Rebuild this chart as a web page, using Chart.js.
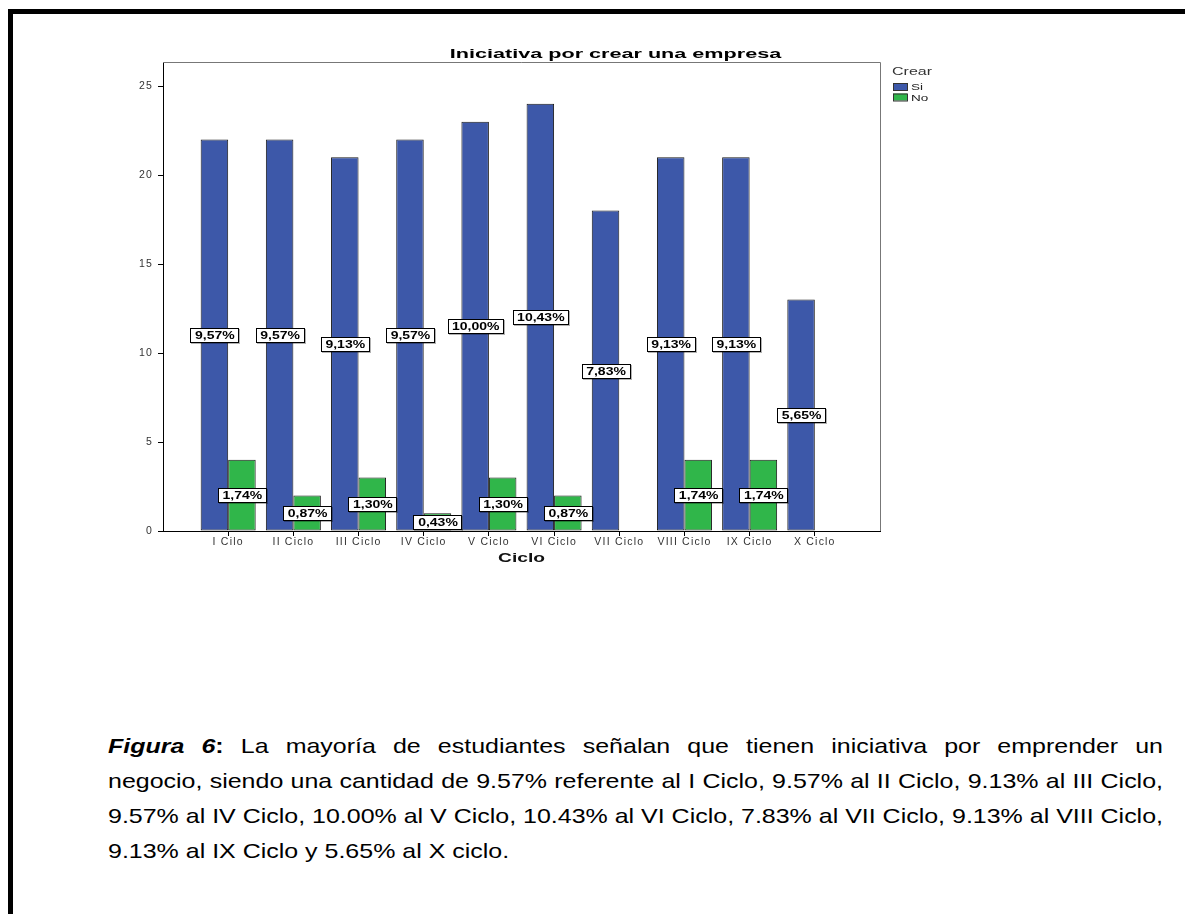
<!DOCTYPE html>
<html>
<head>
<meta charset="utf-8">
<script src="https://cdn.jsdelivr.net/npm/chart.js@4.4.0/dist/chart.umd.min.js"></script>
<style>
    html, body { margin: 0; padding: 0; background: #fff; }
    body { width: 1185px; height: 914px; position: relative; overflow: hidden; }
    #marco { position: absolute; left: 8px; top: 9px; right: -20px; bottom: -20px; border-top: 5px solid #000; border-left: 5px solid #000; }
    #grafico { position: absolute; left: 0; top: 0; }
    #leyenda { position: absolute; left: 108px; top: 728px; font-family: "Liberation Sans", Arial, sans-serif; font-size: 21px; line-height: 35px; color: #000; transform-origin: 0 0; }
    #leyenda div { text-align: justify; text-align-last: justify; white-space: nowrap; }
    #leyenda.medir div { text-align-last: left; }
    #leyenda div.ultima { text-align-last: left; }
</style>
</head>
<body>
<div id="marco"></div>
<canvas id="grafico" width="1185" height="600"></canvas>
<div id="leyenda" class="medir">
    <div><span><b><i>Figura 6</i>:</b> La mayoría de estudiantes señalan que tienen iniciativa por emprender un</span></div>
    <div><span>negocio, siendo una cantidad de 9.57% referente al I Ciclo, 9.57% al II Ciclo, 9.13% al III Ciclo,</span></div>
    <div><span>9.57% al IV Ciclo, 10.00% al V Ciclo, 10.43% al VI Ciclo, 7.83% al VII Ciclo, 9.13% al VIII Ciclo,</span></div>
    <div class="ultima"><span>9.13% al IX Ciclo y 5.65% al X ciclo.</span></div>
</div>
<script>
// datos
const ciclos = ['I Cilo', 'II Ciclo', 'III Ciclo', 'IV Ciclo', 'V Ciclo', 'VI Ciclo', 'VII Ciclo', 'VIII Ciclo', 'IX Ciclo', 'X Ciclo'];
const crearSi = [22, 22, 21, 22, 23, 24, 18, 21, 21, 13];
const crearNo = [4, 2, 3, 1, 3, 2, 0, 4, 4, 0];
const porcSi = ['9,57%', '9,57%', '9,13%', '9,57%', '10,00%', '10,43%', '7,83%', '9,13%', '9,13%', '5,65%'];
const porcNo = ['1,74%', '0,87%', '1,30%', '0,43%', '1,30%', '0,87%', '', '1,74%', '1,74%', ''];
const ticksY = [0, 5, 10, 15, 20, 25];

const FUENTE = '"Liberation Sans", Arial, sans-serif';

// el texto de la figura viene estirado a lo ancho: ajustar al ancho de la linea mas larga
let leyenda = document.getElementById('leyenda');
let anchoMax = 0;
leyenda.querySelectorAll('span').forEach(s => { anchoMax = Math.max(anchoMax, s.getBoundingClientRect().width); });
let escala = 1055 / anchoMax;
leyenda.style.width = (1055 / escala) + 'px';
leyenda.style.transform = 'scaleX(' + escala + ')';
leyenda.classList.remove('medir');

// categorias vacias a cada lado, como en el original de SPSS
let etiquetasX = [''].concat(ciclos, ['']);
let datosSi = [null].concat(crearSi, [null]);
let datosNo = [null].concat(crearNo, [null]);

// texto ensanchado horizontalmente (las fuentes de SPSS salen estiradas)
function textoEstirado(ctx, txt, x, y, fuente, sx, align, color) {
    ctx.save();
    ctx.letterSpacing = '0px';
    ctx.font = fuente;
    ctx.fillStyle = color;
    ctx.textAlign = 'left';
    ctx.textBaseline = 'alphabetic';
    let w = ctx.measureText(txt).width * sx;
    let x0 = x;
    if (align === 'center') x0 = x - w / 2;
    if (align === 'right') x0 = x - w;
    ctx.translate(x0, y);
    ctx.scale(sx, 1);
    ctx.fillText(txt, 0, 0);
    ctx.restore();
    return w;
}

const espaciado = {
    id: 'espaciado',
    beforeDraw(chart) {
        chart.ctx.letterSpacing = '1.2px';
    }
};

const marcoPlot = {
    id: 'marcoPlot',
    beforeDatasetsDraw(chart) {
        let a = chart.chartArea;
        let ctx = chart.ctx;
        ctx.save();
        ctx.strokeStyle = '#777';
        ctx.lineWidth = 1;
        ctx.beginPath();
        ctx.moveTo(a.left, a.top + 0.5);
        ctx.lineTo(a.right + 0.5, a.top + 0.5);
        ctx.lineTo(a.right + 0.5, a.bottom);
        ctx.stroke();
        ctx.restore();
    }
};

const etiquetas = {
    id: 'etiquetas',
    afterDatasetsDraw(chart) {
        let ctx = chart.ctx;
        [porcSi, porcNo].forEach((arr, d) => {
            let meta = chart.getDatasetMeta(d);
            meta.data.forEach((bar, i) => {
                let txt = arr[i - 1];
                if (!txt) return;
                let cy = (bar.y + bar.base) / 2;
                let fuente = 'bold 10px ' + FUENTE;
                ctx.save();
                ctx.letterSpacing = '0px';
                ctx.font = fuente;
                let w = Math.round(ctx.measureText(txt).width * 1.4 + 8);
                let h = 14;
                let x0 = Math.round(bar.x - w / 2);
                let y0 = Math.round(cy - h / 2);
                ctx.fillStyle = 'rgba(0,0,0,0.3)';
                ctx.fillRect(x0 + 1, y0 + 1, w + 1, h + 1);
                ctx.fillStyle = '#fff';
                ctx.fillRect(x0, y0, w, h);
                ctx.strokeStyle = '#000';
                ctx.lineWidth = 1;
                ctx.strokeRect(x0 + 0.5, y0 + 0.5, w, h);
                ctx.restore();
                textoEstirado(ctx, txt, bar.x + 0.5, y0 + 11, fuente, 1.4, 'center', '#000');
            });
        });
    }
};

const textos = {
    id: 'textos',
    afterDraw(chart) {
        let ctx = chart.ctx;
        let a = chart.chartArea;
        // titulo
        textoEstirado(ctx, 'Iniciativa por crear una empresa', 615.5, a.top - 4, 'bold 12px ' + FUENTE, 1.8, 'center', '#000');
        // titulo del eje x
        textoEstirado(ctx, 'Ciclo', (a.left + a.right) / 2, a.bottom + 31, 'bold 12px ' + FUENTE, 1.6, 'center', '#111');
        // leyenda
        let lx = a.right + 13;
        textoEstirado(ctx, 'Crear', lx - 1, a.top + 13, '10px ' + FUENTE, 1.6, 'left', '#333');
        chart.data.datasets.forEach((ds, k) => {
            let y = a.top + 21 + k * 10.5;
            ctx.save();
            ctx.fillStyle = ds.backgroundColor;
            ctx.fillRect(lx, y, 14, 7);
            ctx.strokeStyle = '#333';
            ctx.lineWidth = 1;
            ctx.strokeRect(lx + 0.5, y + 0.5, 14, 7);
            ctx.restore();
            textoEstirado(ctx, ds.label, lx + 18, y + 7, '9px ' + FUENTE, 1.5, 'left', '#222');
        });
    }
};

let ctx = document.getElementById('grafico').getContext('2d');
let grafico = new Chart(ctx, {
    type: 'bar',
    data: {
        labels: etiquetasX,
        datasets: [{
            label: 'Si',
            data: datosSi,
            backgroundColor: '#3d58a9',
            borderColor: '#1a1a1a',
            borderWidth: 1,
            borderSkipped: false
        }, {
            label: 'No',
            data: datosNo,
            backgroundColor: '#30b64a',
            borderColor: '#1a1a1a',
            borderWidth: 1,
            borderSkipped: false
        }]
    },
    options: {
        responsive: false,
        animation: false,
        categoryPercentage: 0.844,
        barPercentage: 1.0,
        layout: {
            padding: { left: 123, top: 62, right: 305, bottom: 29 }
        },
        plugins: {
            legend: { display: false },
            title: { display: false },
            tooltip: { enabled: false }
        },
        scales: {
            x: {
                offset: false,
                afterFit(s) { s.height = 40; },
                grid: {
                    offset: false,
                    drawOnChartArea: false,
                    tickLength: 5,
                    color: c => (c.index === 0 || c.index === etiquetasX.length - 1) ? 'rgba(0,0,0,0)' : '#000'
                },
                border: { color: '#000', width: 1 },
                ticks: {
                    font: { family: FUENTE, size: 10.5 },
                    color: '#333',
                    padding: 0,
                    maxRotation: 0,
                    autoSkip: false
                }
            },
            y: {
                min: 0,
                max: 26.35,
                afterFit(s) { s.width = 40; },
                afterBuildTicks(s) { s.ticks = ticksY.map(v => ({ value: v })); },
                grid: {
                    drawOnChartArea: false,
                    tickLength: 5,
                    color: '#000'
                },
                border: { color: '#000', width: 1 },
                ticks: {
                    font: { family: FUENTE, size: 10.5 },
                    color: '#333',
                    padding: 5
                }
            }
        }
    },
    plugins: [espaciado, marcoPlot, etiquetas, textos]
});
</script>
</body>
</html>
